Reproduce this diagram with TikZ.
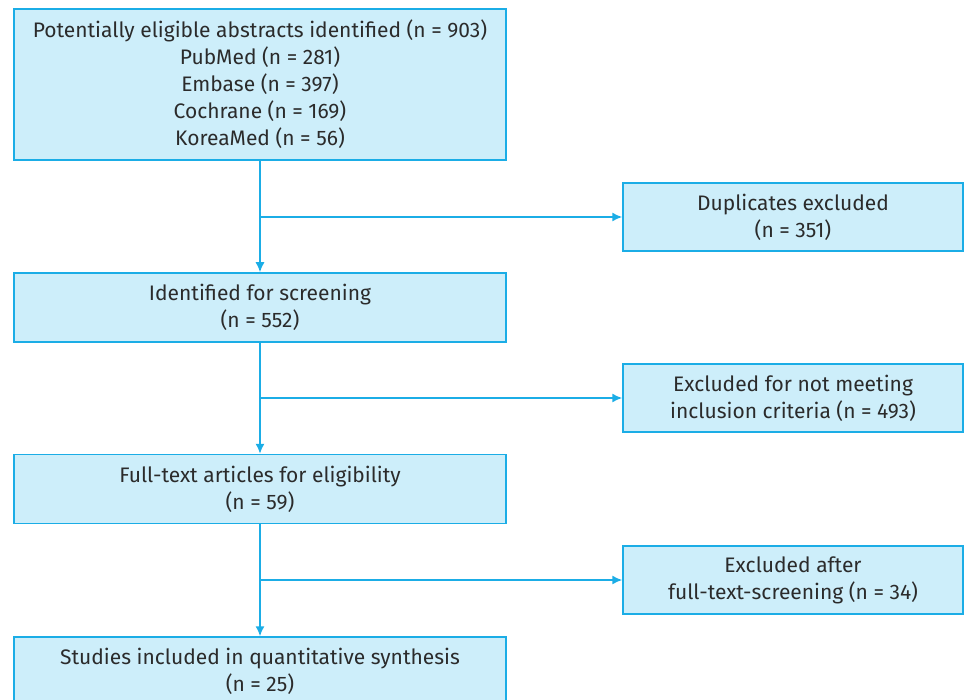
\documentclass[tikz,border=0pt]{standalone}
\usepackage{fontspec}
\setmainfont{Fira Sans}
\usetikzlibrary{arrows.meta}
\definecolor{boxline}{HTML}{1BADE6}
\definecolor{boxfill}{HTML}{CDEEFA}
\definecolor{txt}{HTML}{2B2B2B}
\begin{document}
\begin{tikzpicture}[x=1pt,y=-1pt,
    box/.style={draw=boxline,fill=boxfill,line width=1.5pt,align=center,
      text=txt,font=\fontsize{21}{27}\selectfont,inner sep=0pt},
    mainbox/.style={box,minimum width=492pt,minimum height=69pt},
    sidebox/.style={box,minimum width=340pt,minimum height=68pt},
    arrow/.style={draw=boxline,line width=1.5pt,-{Latex[length=10pt,width=9pt]}}]
  \clip (0,0) rectangle (968,700);
  \useasboundingbox (0,0) rectangle (968,700);
  % left column
  \node[mainbox,minimum height=151pt] (ident) at (260,84.5)
    {Potentially eligible abstracts identified (n = 903)\\PubMed (n = 281)\\
     Embase (n = 397)\\Cochrane (n = 169)\\KoreaMed (n = 56)};
  \node[mainbox] (screen) at (260,307.5) {Identified for screening\\(n = 552)};
  \node[mainbox] (full) at (260,489) {Full-text articles for eligibility\\(n = 59)};
  \node[mainbox] (incl) at (260,671.5) {Studies included in quantitative synthesis\\(n = 25)};
  % right column
  \node[sidebox] (dup) at (793,217) {Duplicates excluded\\(n = 351)};
  \node[sidebox] (excl) at (793,398) {Excluded for not meeting\\inclusion criteria (n = 493)};
  \node[sidebox] (exclft) at (793,580) {Excluded after\\full-text-screening (n = 34)};
  % branch points
  \coordinate (b1) at (ident.south |- dup.west);
  \coordinate (b2) at (ident.south |- excl.west);
  \coordinate (b3) at (ident.south |- exclft.west);
  \draw[arrow] (ident) -- (screen);
  \draw[arrow] (screen) -- (full);
  \draw[arrow] (full) -- (incl);
  \draw[arrow] (b1) -- (dup);
  \draw[arrow] (b2) -- (excl);
  \draw[arrow] (b3) -- (exclft);
\end{tikzpicture}
\end{document}
